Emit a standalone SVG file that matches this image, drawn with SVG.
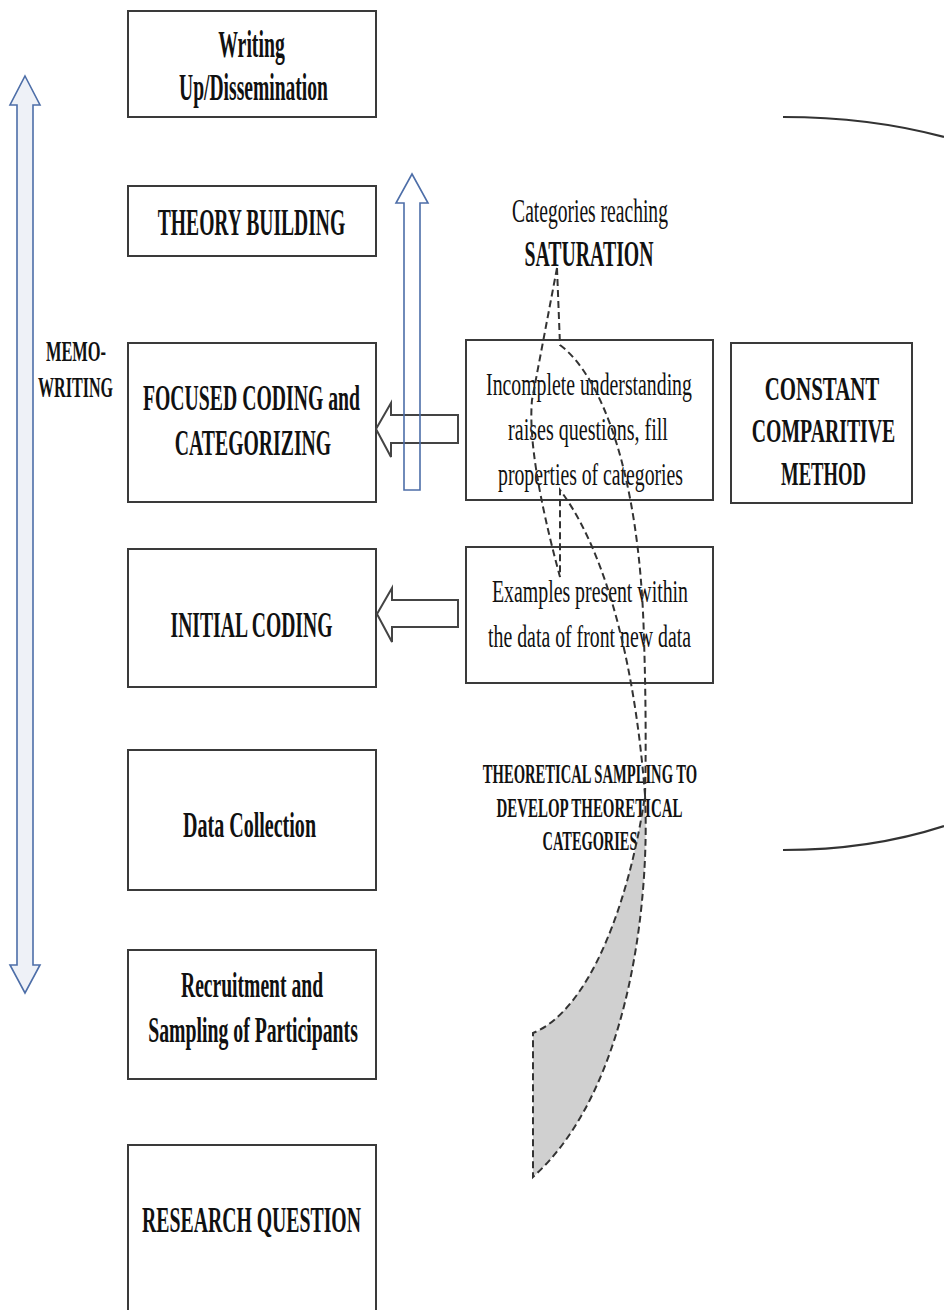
<svg xmlns="http://www.w3.org/2000/svg" width="944" height="1310" viewBox="0 0 944 1310">
<style>
.box{fill:#fff;stroke:#3a3a3a;stroke-width:2}
.t{font-family:"Liberation Serif","Times New Roman",serif;fill:#111;text-anchor:middle}
.b{font-weight:bold}
.blk{fill:none;stroke:#444;stroke-width:2}
.blue{stroke:#4d6ea8;stroke-width:1.6}
.dash{fill:none;stroke:#333;stroke-width:2;stroke-dasharray:7 4}
.brk{fill:none;stroke:#333;stroke-width:2.2}
</style>
<rect width="944" height="1310" fill="#fff"/>

<g id="memo-arrow">
<polygon class="blue" fill="#eef1f7" points="25,76 40,105 33,105 33,965 40,965 25,993 10,965 17,965 17,105 10,105"/>
<text class="t b" font-size="29" transform="translate(76,361) scale(0.566,1)">MEMO-</text>
<text class="t b" font-size="29" transform="translate(75.5,397) scale(0.554,1)">WRITING</text>
</g>

<g id="writing">
<rect class="box" x="128" y="11" width="248" height="106"/>
<text class="t b" font-size="37" transform="translate(251.5,57) scale(0.534,1)">Writing</text>
<text class="t b" font-size="37" transform="translate(253.5,100) scale(0.529,1)">Up/Dissemination</text>
</g>

<g id="theory">
<rect class="box" x="128" y="186" width="248" height="70"/>
<text class="t b" font-size="38" transform="translate(251.5,235) scale(0.516,1)">THEORY BUILDING</text>
</g>

<g id="focused">
<rect class="box" x="128" y="343" width="248" height="159"/>
<text class="t b" font-size="35" transform="translate(251.5,410) scale(0.564,1)">FOCUSED CODING and</text>
<text class="t b" font-size="35" transform="translate(253,455) scale(0.564,1)">CATEGORIZING</text>
</g>

<g id="initial">
<rect class="box" x="128" y="549" width="248" height="138"/>
<text class="t b" font-size="36" transform="translate(251.5,637) scale(0.545,1)">INITIAL CODING</text>
</g>

<g id="data">
<rect class="box" x="128" y="750" width="248" height="140"/>
<text class="t b" font-size="36" transform="translate(249.5,837) scale(0.557,1)">Data Collection</text>
</g>

<g id="recruit">
<rect class="box" x="128" y="950" width="248" height="129"/>
<text class="t b" font-size="35" transform="translate(252,997) scale(0.56,1)">Recruitment and</text>
<text class="t b" font-size="35" transform="translate(253,1042) scale(0.565,1)">Sampling of Participants</text>
</g>

<g id="research">
<rect class="box" x="128" y="1145" width="248" height="180"/>
<text class="t b" font-size="36" transform="translate(251.5,1232) scale(0.549,1)">RESEARCH QUESTION</text>
</g>

<g id="saturation">
<text class="t" font-size="33" transform="translate(590,222) scale(0.593,1)">Categories reaching</text>
<text class="t b" font-size="35" transform="translate(589,266) scale(0.566,1)">SATURATION</text>
</g>

<g id="incomplete">
<rect class="box" x="466" y="340" width="247" height="160"/>
<text class="t" font-size="32" transform="translate(589,395) scale(0.618,1)">Incomplete understanding</text>
<text class="t" font-size="32" transform="translate(588,440) scale(0.627,1)">raises questions, fill</text>
<text class="t" font-size="32" transform="translate(590.5,485) scale(0.616,1)">properties of categories</text>
</g>

<g id="constant">
<rect class="box" x="731" y="343" width="181" height="160"/>
<text class="t b" font-size="33" transform="translate(822,400) scale(0.633,1)">CONSTANT</text>
<text class="t b" font-size="33" transform="translate(823.5,442) scale(0.599,1)">COMPARITIVE</text>
<text class="t b" font-size="33" transform="translate(823.5,485) scale(0.565,1)">METHOD</text>
</g>

<g id="examples">
<rect class="box" x="466" y="547" width="247" height="136"/>
<text class="t" font-size="32" transform="translate(590,602) scale(0.62,1)">Examples present within</text>
<text class="t" font-size="32" transform="translate(589.5,647) scale(0.619,1)">the data of front new data</text>
</g>

<g id="sampling">
<text class="t b" font-size="27" transform="translate(590,783) scale(0.541,1)">THEORETICAL SAMPLING TO</text>
<text class="t b" font-size="27" transform="translate(589.5,817) scale(0.553,1)">DEVELOP THEORETICAL</text>
<text class="t b" font-size="27" transform="translate(590,850) scale(0.533,1)">CATEGORIES</text>
</g>

<g id="connectors">
<polygon class="blk" points="376,429 391,403 391,415 458,415 458,443 391,443 391,457"/>
<polygon class="blk" points="377,614 392,588 392,600 458,600 458,627 392,627 392,642"/>
<polygon class="blue" fill="none" points="412,174 428,203 420,203 420,490 404,490 404,203 396,203"/>
<path fill="#d0d0d0" stroke="none" d="M645,795 C650,900 630,1090 533,1177 L533,1033 C590,1010 630,900 645,795 Z"/>
<path class="dash" d="M645,795 C650,900 630,1090 533,1177 L533,1033 C590,1010 630,900 645,795"/>
<path class="dash" d="M557,268 L532,400 Q527,455 560,577 L560,490 C598,540 633,640 645,795"/>
<path class="dash" d="M557,268 L560,345 C600,375 640,470 644,640 C646,700 646,760 645,795"/>
<path class="brk" d="M783,117 Q870,117 944,137"/>
<path class="brk" d="M783,850 Q870,850 944,826"/>
</g>
</svg>
